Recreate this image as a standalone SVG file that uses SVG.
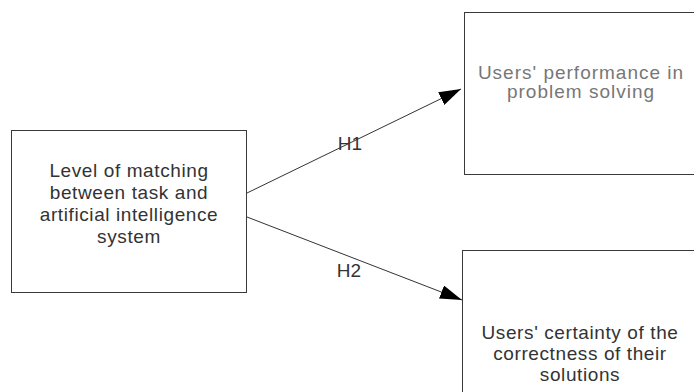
<svg xmlns="http://www.w3.org/2000/svg" width="694" height="392" viewBox="0 0 694 392">
  <style>
    .box { fill: #ffffff; stroke: #3a3a3a; stroke-width: 1; }
    .label { font-family: "Liberation Sans", Arial, sans-serif; font-size: 19px; fill: #333333; text-anchor: middle; letter-spacing: 0.6px; }
    .faint { fill: #777777; letter-spacing: 1px; }
    .edge { stroke: #333333; stroke-width: 1; fill: none; }
    .tag { font-family: "Liberation Sans", Arial, sans-serif; font-size: 19px; fill: #333333; text-anchor: middle; }
  </style>
  <defs>
    <marker id="head" viewBox="0 0 22 14" refX="22" refY="7" markerWidth="22" markerHeight="14" markerUnits="userSpaceOnUse" orient="auto">
      <path d="M0,0 L22,7 L0,14 Z" fill="#000000"/>
    </marker>
  </defs>

  <rect width="694" height="392" fill="#ffffff"/>

  <g id="connectors">
    <line class="edge" x1="247" y1="193" x2="461" y2="89" marker-end="url(#head)"/>
    <line class="edge" x1="247" y1="217" x2="462" y2="300" marker-end="url(#head)"/>
  </g>

  <g id="h1">
    <text class="tag" x="350" y="150">H1</text>
  </g>
  <g id="h2">
    <text class="tag" x="349" y="277">H2</text>
  </g>

  <g id="task-ai-match">
    <rect class="box" x="11.5" y="130.5" width="235" height="162"/>
    <text class="label" x="129" y="177">Level of matching</text>
    <text class="label" x="129" y="199">between task and</text>
    <text class="label" x="129" y="221">artificial intelligence</text>
    <text class="label" x="129" y="243">system</text>
  </g>

  <g id="performance">
    <rect class="box" x="464.5" y="12.5" width="240" height="162"/>
    <text class="label faint" x="581" y="79">Users' performance in</text>
    <text class="label faint" x="581" y="98">problem solving</text>
  </g>

  <g id="certainty">
    <rect class="box" x="462.5" y="250.5" width="240" height="160"/>
    <text class="label" x="580" y="339">Users' certainty of the</text>
    <text class="label" x="580" y="360">correctness of their</text>
    <text class="label" x="580" y="381">solutions</text>
  </g>
</svg>
